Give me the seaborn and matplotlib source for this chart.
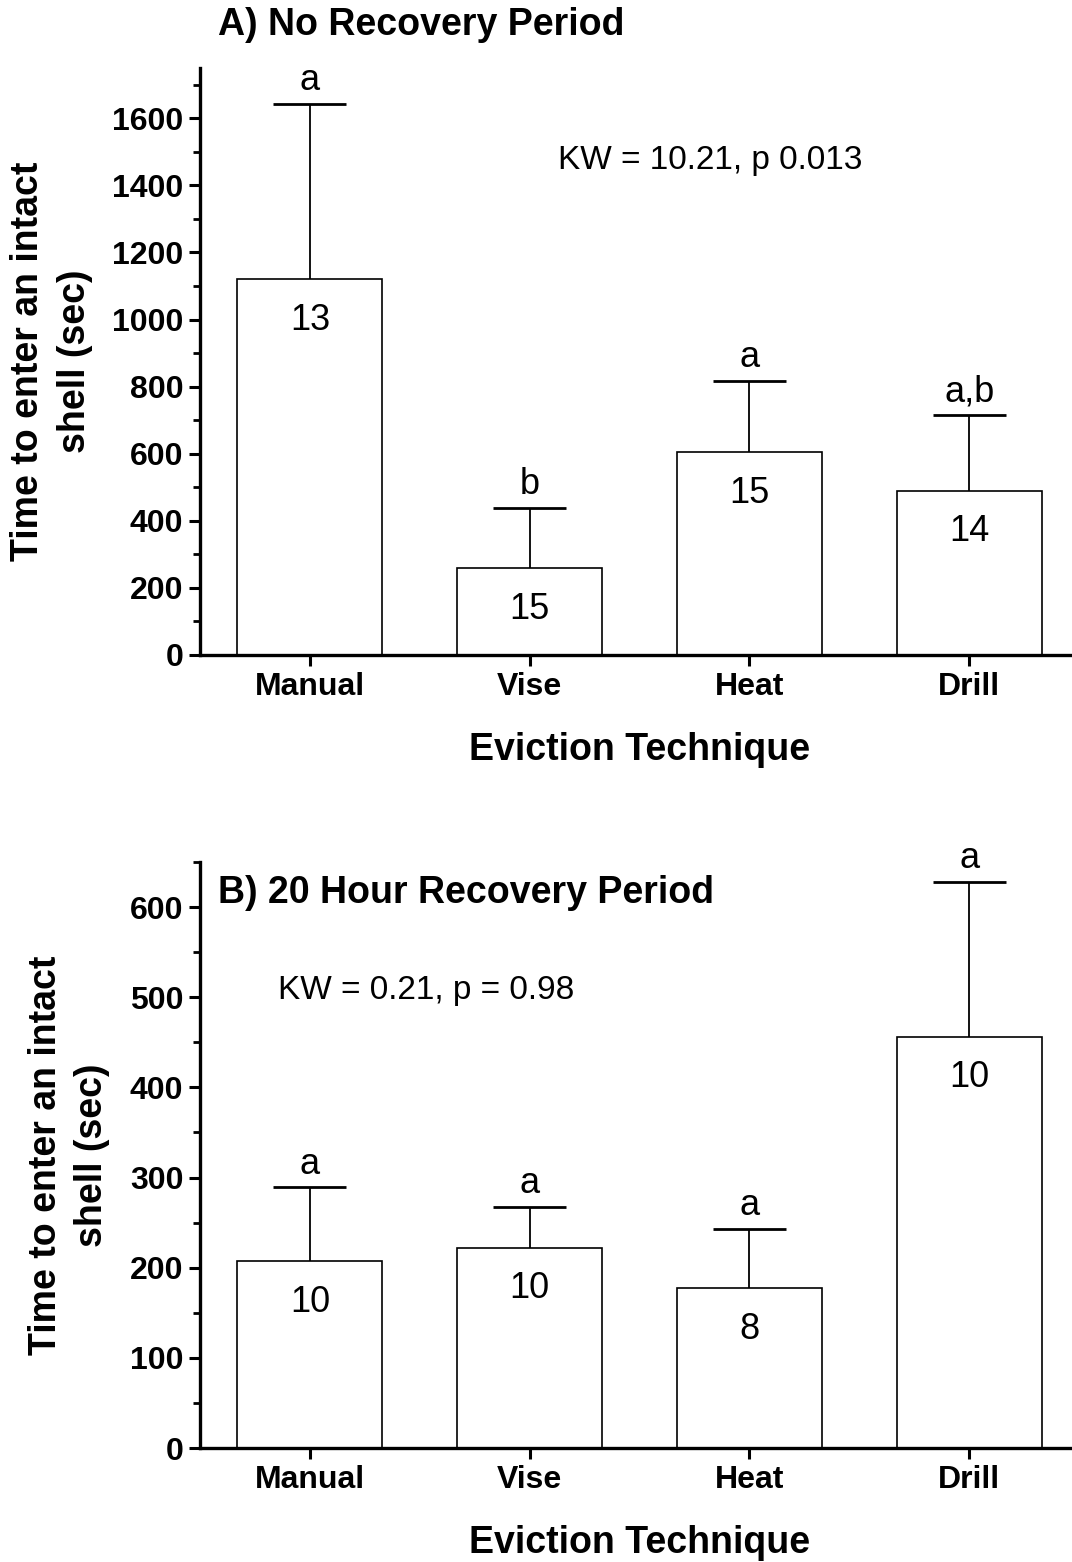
import matplotlib
matplotlib.use("Agg")
import matplotlib.pyplot as plt
import seaborn as sns
import pandas as pd
from matplotlib.ticker import MultipleLocator

# ---- data ----
techniques = ["Manual", "Vise", "Heat", "Drill"]

a_means = [1120, 259, 605, 489]
a_upper = [1642, 438, 816, 715]
a_n = ["13", "15", "15", "14"]
a_letters = ["a", "b", "a", "a,b"]

b_means = [207, 222, 177, 456]
b_upper = [289, 267, 243, 628]
b_n = ["10", "10", "8", "10"]
b_letters = ["a", "a", "a", "a"]

sns.set_theme(style="ticks")
plt.rcParams["font.family"] = ["Liberation Sans", "DejaVu Sans"]
plt.rcParams["text.color"] = "black"
plt.rcParams["axes.labelcolor"] = "black"
plt.rcParams["xtick.color"] = "black"
plt.rcParams["ytick.color"] = "black"
plt.rcParams["axes.edgecolor"] = "black"

W, H = 1072, 1562
fig = plt.figure(figsize=(W / 100, H / 100), dpi=100)

def px_axes(left, top, right, bottom):
    return fig.add_axes([left / W, 1 - bottom / H, (right - left) / W, (bottom - top) / H])

ax1 = px_axes(200, 68, 1079, 655)
ax2 = px_axes(200, 862, 1079, 1448)

def panel(ax, means, upper, ns, letters, ymax, major, minor):
    df = pd.DataFrame({"tech": techniques, "val": means})
    sns.barplot(data=df, x="tech", y="val", ax=ax, color="white",
                edgecolor="black", linewidth=1.2, width=0.66, saturation=1,
                errorbar=None, zorder=2)
    xs = list(range(len(techniques)))
    ax.vlines(xs, means, upper, color="black", lw=1.3, zorder=1)
    ax.hlines(upper, [x - 0.166 for x in xs], [x + 0.166 for x in xs],
              color="black", lw=2.0, zorder=1)
    for x, m, u, n, l in zip(xs, means, upper, ns, letters):
        ax.annotate(n, (x, m), xytext=(0, -29.5), textcoords="offset points",
                    ha="center", va="center", fontsize=26, color="black")
        ax.annotate(l, (x, u), xytext=(0, 10), textcoords="offset points",
                    ha="center", va="baseline", fontsize=26, color="black")
    ax.set_xlim(-0.5, 3.5)
    ax.set_ylim(0, ymax)
    ax.yaxis.set_major_locator(MultipleLocator(major))
    ax.yaxis.set_minor_locator(MultipleLocator(minor))
    for s in ["top", "right"]:
        ax.spines[s].set_visible(False)
    for s in ["left", "bottom"]:
        ax.spines[s].set_linewidth(2.4)
        ax.spines[s].set_color("black")
    ax.tick_params(axis="both", which="major", length=8, width=2.2,
                   labelsize=23, color="black", labelcolor="black",
                   direction="out", pad=4)
    ax.tick_params(axis="y", which="minor", length=5, width=2.0, color="black")
    ax.tick_params(axis="x", which="minor", bottom=False)
    for lab in ax.get_xticklabels() + ax.get_yticklabels():
        lab.set_fontweight("bold")
    ax.set_xlabel("Eviction Technique", fontsize=27, fontweight="bold",
                  labelpad=22, color="black")
    ax.set_ylabel("Time to enter an intact\nshell (sec)", fontsize=27,
                  fontweight="bold", labelpad=14, linespacing=1.38, color="black")
    ax.set_facecolor("white")

panel(ax1, a_means, a_upper, a_n, a_letters, 1750, 200, 100)
panel(ax2, b_means, b_upper, b_n, b_letters, 650, 100, 50)

ax1.text(18 / 879, (655 - 25) / 587, "A) No Recovery Period", transform=ax1.transAxes,
         fontsize=27, fontweight="bold", ha="left", va="center", clip_on=False,
         color="black")
ax1.text((558 - 200) / 879, (655 - 160) / 587, "KW = 10.21, p 0.013",
         transform=ax1.transAxes, fontsize=24, ha="left", va="center", color="black")

ax2.text(18 / 879, (1448 - 893) / 586, "B) 20 Hour Recovery Period", transform=ax2.transAxes,
         fontsize=27, fontweight="bold", ha="left", va="center", color="black")
ax2.text((278 - 200) / 879, (1448 - 990) / 586, "KW = 0.21, p = 0.98",
         transform=ax2.transAxes, fontsize=24, ha="left", va="center", color="black")

fig.savefig("out.png", dpi=100, facecolor="white")
